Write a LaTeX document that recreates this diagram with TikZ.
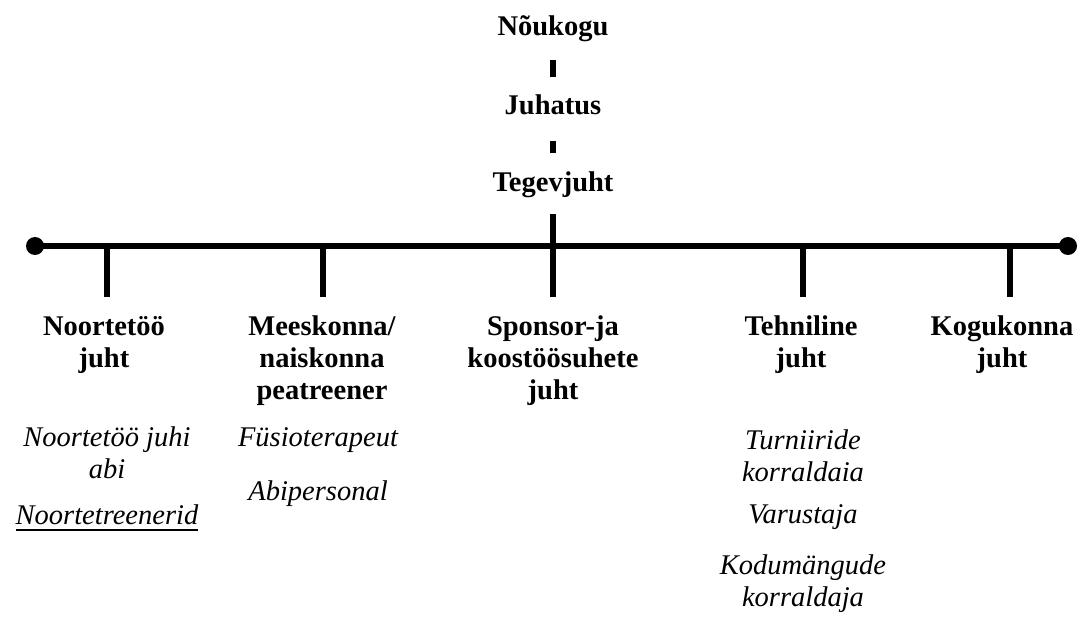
\documentclass[tikz,border=0pt]{standalone}
\usepackage{fontspec}
\setmainfont{Liberation Serif}
\newcommand\myul[1]{\setbox0\hbox{#1}\rlap{\rule[-6bp]{\wd0}{2bp}}\box0}
\tikzset{
  head/.style={font=\bfseries\fontsize{28.5bp}{32bp}\selectfont, align=center, inner sep=0pt, anchor=north},
  top/.style={font=\bfseries\fontsize{28.5bp}{32bp}\selectfont, inner sep=0pt, anchor=base},
  sub/.style={font=\itshape\fontsize{28.5bp}{32bp}\selectfont, align=center, inner sep=0pt, anchor=north},
  conn/.style={line width=5.8bp, black},
}
\begin{document}
\begin{tikzpicture}[x=1bp,y=-1bp]
\useasboundingbox (0,0) rectangle (1080,619);
% top chain
\node[top] (n) at (553,36) {Nõukogu};
\node[top] (j) at (553,115) {Juhatus};
\node[top] (t) at (553,192) {Tegevjuht};
% bus
\coordinate (L) at (35,246);
\coordinate (R) at (1068,246);
\coordinate (b1) at (107,246);
\coordinate (b2) at (323,246);
\coordinate (b4) at (803,246);
\coordinate (b5) at (1010,246);
% heads
\node[head] (h1) at (104,313) {\strut Noortetöö\\juht};
\node[head] (h2) at (322,313) {\strut Meeskonna/\\naiskonna\\peatreener};
\node[head] (h3) at (553,313) {\strut Sponsor-ja\\koostöösuhete\\juht};
\node[head] (h4) at (801,313) {\strut Tehniline\\juht};
\node[head] (h5) at (1002,313) {\strut Kogukonna\\juht};
% subordinates
\node[sub] (a1) at (107,424) {\strut Noortetöö juhi\\abi};
\node[sub] (a2) at (107,502) {\strut\myul{Noortetreenerid}};
\node[sub] (m1) at (318,424) {\strut Füsioterapeut};
\node[sub] (m2) at (318,478) {\strut Abipersonal};
\node[sub] (t1) at (803,427) {\strut Turniiride\\korraldaia};
\node[sub] (t2) at (803,501) {\strut Varustaja};
\node[sub] (t3) at (803,552) {\strut Kodumängude\\korraldaja};
% connectors
\draw[conn, shorten <=18bp, shorten >=18bp] (n) -- (j);
\draw[conn, shorten <=25bp, shorten >=19bp] (j) -- (t);
\draw[conn, shorten <=16bp, shorten >=16bp] (t) -- (h3);
\draw[conn] (L) -- (R);
\fill (L) circle (9);
\fill (R) circle (9);
\draw[conn, shorten >=16bp] (b1) -- (b1 |- h1.north);
\draw[conn, shorten >=16bp] (b2) -- (b2 |- h2.north);
\draw[conn, shorten >=16bp] (b4) -- (b4 |- h4.north);
\draw[conn, shorten >=16bp] (b5) -- (b5 |- h5.north);
\end{tikzpicture}
\end{document}
